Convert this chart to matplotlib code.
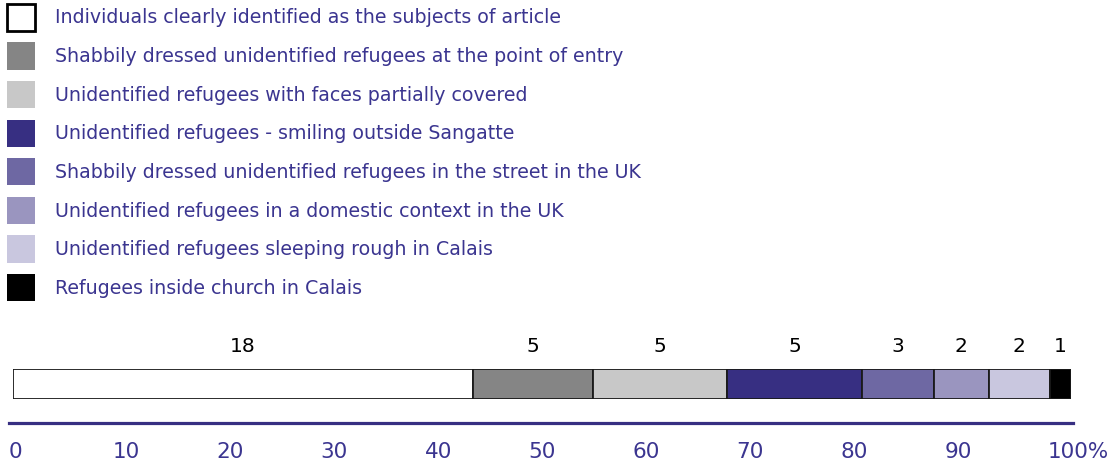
import matplotlib.pyplot as plt
from matplotlib.patches import Patch
import numpy as np

plt.rcParams['font.family'] = ['DejaVu Sans']

categories = [
    "Individuals clearly identified as the subjects of article",
    "Shabbily dressed unidentified refugees at the point of entry",
    "Unidentified refugees with faces partially covered",
    "Unidentified refugees - smiling outside Sangatte",
    "Shabbily dressed unidentified refugees in the street in the UK",
    "Unidentified refugees in a domestic context in the UK",
    "Unidentified refugees sleeping rough in Calais",
    "Refugees inside church in Calais",
]
counts = [18, 5, 5, 5, 3, 2, 2, 1]
shares = [43.5, 11.4, 12.7, 12.7, 6.8, 5.2, 5.8, 2.0]  # bar widths, %
tick_values = [0, 10, 20, 30, 40, 50, 60, 70, 80, 90, 100]
tick_labels = ["0", "10", "20", "30", "40", "50", "60", "70", "80", "90", "100%"]

colors = ["#ffffff", "#858585", "#c8c8c8", "#372f82",
          "#6e68a3", "#9a95bf", "#c9c7df", "#000000"]
text_blue = "#3b3590"

W, H = 1115, 468
fig = plt.figure(figsize=(W / 100, H / 100), dpi=100)

# stacked bar
ax = fig.add_axes([12.7 / W, 1 - 398.5 / H, (1071 - 12.7) / W, 30 / H])
left = np.concatenate([[0], np.cumsum(shares)[:-1]])
ax.barh([0], shares, left=left, height=1.0, color=colors,
        edgecolor="#1a1a1a", linewidth=1.3)
for l, s, c in zip(left, shares, counts):
    ax.text(l + s / 2, 1.25, str(c), ha="center", va="center",
            fontsize=14.5, color="black")
ax.set_xlim(0, sum(shares))
ax.set_ylim(-0.5, 0.5)
ax.axis("off")

# percent scale
sax = fig.add_axes([9 / W, 1 - 422.7 / H, (1073 - 9) / W, 0.01])
sax.set_xlim(0, 102.4)
sax.set_ylim(0, 1)
for s in ["top", "left", "right"]:
    sax.spines[s].set_visible(False)
sax.spines["bottom"].set_color("#372f82")
sax.spines["bottom"].set_linewidth(2.3)
sax.set_yticks([])
sax.set_xticks(tick_values)
sax.set_xticklabels(tick_labels, ha="left", color=text_blue, fontsize=15.5)
sax.tick_params(axis="x", length=0, pad=14)

# legend
handles = []
for i, (cat, col) in enumerate(zip(categories, colors)):
    handles.append(Patch(facecolor=col, edgecolor="black" if i == 0 else col,
                         linewidth=2 if i == 0 else 0, label=cat))
fig.legend(handles=handles, loc="upper left", bbox_to_anchor=(0.0, 1.0 + 3 / H),
           frameon=False, fontsize=13.7, labelcolor=text_blue,
           handlelength=1.47, handleheight=1.83, handletextpad=1.05,
           labelspacing=0.595, borderaxespad=0.1, borderpad=0.25)

fig.savefig("out.png", dpi=100)
